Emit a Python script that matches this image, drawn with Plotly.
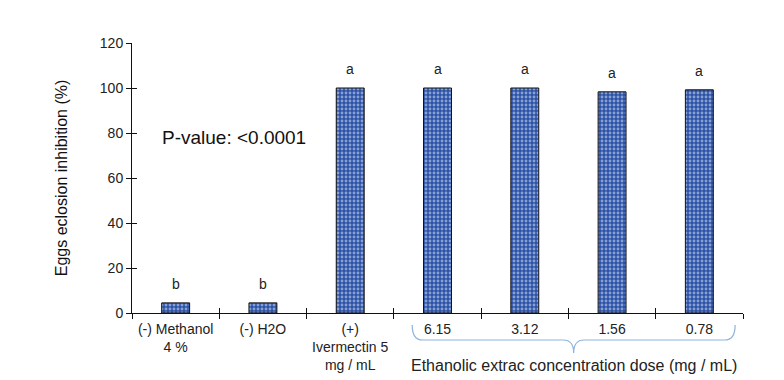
import plotly.graph_objects as go

categories = ["(-) Methanol<br>4 %", "(-) H2O", "(+)<br>Ivermectin 5<br>mg / mL",
              "6.15", "3.12", "1.56", "0.78"]
inhibition = [4.5, 4.5, 100, 100, 100, 98.3, 99.2]
letters = ["b", "b", "a", "a", "a", "a", "a"]
y_ticks = [0, 20, 40, 60, 80, 100, 120]
pvalue_text = "P-value: <0.0001"
group_title = "Ethanolic extrac concentration dose (mg / mL)"
y_title = "Eggs eclosion inhibition (%)"
group_members = [3, 6]  # first and last category index under the brace

FONT = "Liberation Sans, Arial, sans-serif"
TXT = "#222222"

fig = go.Figure()
fig.add_trace(go.Bar(
    x=categories, y=inhibition, width=0.32,
    marker=dict(color="#2b52a6", line=dict(color="#111111", width=1),
                pattern=dict(shape=".", fgcolor="#e8eefa", bgcolor="#2b52a6",
                             size=4, solidity=0.4)),
    showlegend=False, hoverinfo="skip",
))
# significance letters above bars (x given as category index)
for i, (val, let) in enumerate(zip(inhibition, letters)):
    fig.add_annotation(x=i, y=val, text=let, showarrow=False, yanchor="bottom",
                       yshift=9, font=dict(family=FONT, size=14, color=TXT))

# invisible trace for overlay axes (inside ticks so tick marks cross the axes)
fig.add_trace(go.Scatter(x=categories, y=inhibition, xaxis="x2", yaxis="y2",
                         mode="markers", marker=dict(opacity=0), showlegend=False,
                         hoverinfo="skip"))

axis_common = dict(showgrid=False, zeroline=False, showline=True, linecolor="#111111",
                   linewidth=1, tickcolor="#111111", ticklen=5)
fig.update_layout(
    width=784, height=380,
    margin=dict(l=124, r=49, t=35, b=75),
    paper_bgcolor="white", plot_bgcolor="white",
    font=dict(family=FONT, color=TXT),
    xaxis=dict(**axis_common, type="category", categoryorder="array",
               categoryarray=categories, range=[-0.5, 6.5], ticks="outside",
               tickson="boundaries", ticklabelstandoff=3,
               tickfont=dict(size=14, family=FONT, color=TXT)),
    yaxis=dict(**axis_common, range=[0, 120], tickvals=y_ticks, ticks="outside",
               tickfont=dict(size=14, family=FONT, color=TXT),
               title=dict(text=y_title, font=dict(size=16, family=FONT, color="#111"),
                          standoff=28)),
    xaxis2=dict(**axis_common, type="category", categoryorder="array",
                categoryarray=categories, range=[-0.5, 6.5], ticks="inside",
                tickson="boundaries", showticklabels=False, overlaying="x",
                anchor="y2", side="bottom"),
    yaxis2=dict(**axis_common, range=[0, 120], tickvals=y_ticks, ticks="inside",
                showticklabels=False, overlaying="y", anchor="x2", side="left"),
)

# brace under the extract dose categories
a, b = group_members
xl, xr = a - 0.29, b + 0.41
xm = (xl + xr) / 2
y_top, y_mid, y_tip = -0.044, -0.10, -0.148
path = (f"M {xl} {y_top} Q {xl} {y_mid} {xl + 0.12} {y_mid} "
        f"L {xm - 0.12} {y_mid} Q {xm} {y_mid} {xm} {y_tip} "
        f"Q {xm} {y_mid} {xm + 0.12} {y_mid} L {xr - 0.12} {y_mid} "
        f"Q {xr} {y_mid} {xr} {y_top}")
fig.add_shape(type="path", path=path, xref="x", yref="paper",
              line=dict(color="#8fb3df", width=1.2))

fig.add_annotation(x=xm, y=-0.196, xref="x", yref="paper", text=group_title,
                   showarrow=False, yanchor="middle",
                   font=dict(size=16, family=FONT, color=TXT))
fig.add_annotation(x=-0.18, y=78, xref="x", yref="y", text=pvalue_text, showarrow=False,
                   xanchor="left", yanchor="middle",
                   font=dict(size=19, family=FONT, color="#111"))

fig.write_html("out.html")
